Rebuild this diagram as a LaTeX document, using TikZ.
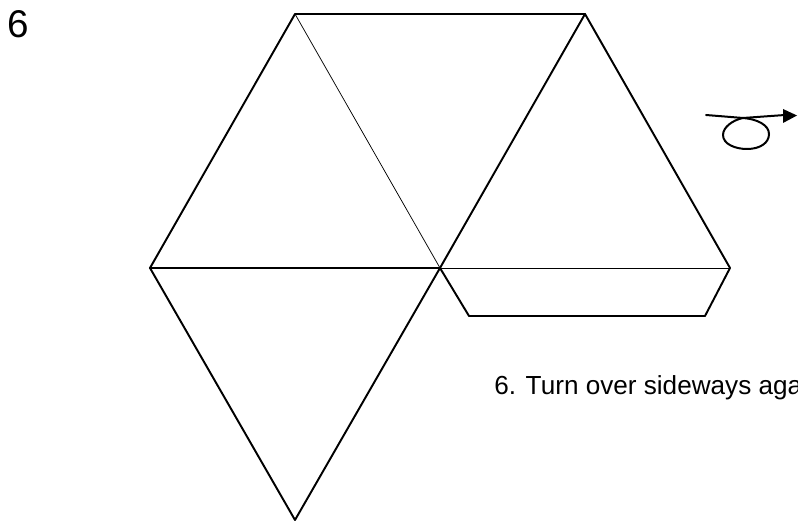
\documentclass[tikz,border=0pt]{standalone}
\usepackage{fontspec}
\setmainfont{Liberation Sans}
\usetikzlibrary{arrows.meta}
\tikzset{
  heavy/.style={line width=1.45pt,line cap=round,line join=round,black},
  thin line/.style={line width=0.55pt,black},
  sketch/.style={line width=1.5pt,black,line cap=round},
  label text/.style={inner sep=0pt,anchor=base west,text=black}
}
\begin{document}
\begin{tikzpicture}[x=0.75pt,y=-0.75pt]
\useasboundingbox (0,0) rectangle (798,523);
\fill[white] (0,0) rectangle (798,523);
\coordinate (A) at (295,14);
\coordinate (B) at (585,14);
\coordinate (C) at (150,268);
\coordinate (O) at (440,268);
\coordinate (D) at (730,268);
\coordinate (E) at (295,520);
\coordinate (F) at (469,316);
\coordinate (G) at (705,316);
\coordinate (S) at (706,115);
\coordinate (T) at (797,115);
\draw[heavy] (O) -- (B) -- (A) -- (C) -- (E) -- (O);
\draw[heavy] (B) -- (D) -- (G) -- (F) -- (O);
\draw[heavy,line width=1.8pt] (C) -- (O);
\draw[thin line] (A) -- (O);
\draw[thin line] (O) -- (D);
\draw[sketch] (S) -- (743,118) -- (785,115);
\draw[sketch] (743,118) .. controls (733,120) and (723,127) .. (723,135)
  .. controls (723,144) and (735,149) .. (747,149)
  .. controls (760,149) and (769,143) .. (769,134)
  .. controls (769,125) and (757,119) .. (743,118);
\fill[black] (783,109) -- (797,115.5) -- (783,123) -- cycle;
\node[label text,font=\fontsize{29}{34}\selectfont] (num) at (7,38) {6};
\begin{scope}
\clip (0,0) rectangle (798,523);
\node[label text,font=\fontsize{19.6}{23}\selectfont] (cap) at (494,394.5) {6. Turn over sideways aga};
\end{scope}
\end{tikzpicture}
\end{document}
